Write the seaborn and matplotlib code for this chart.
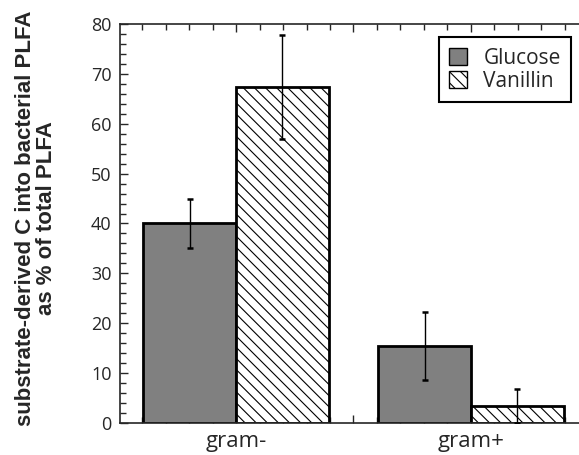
import matplotlib
matplotlib.use("Agg")
import matplotlib.pyplot as plt
from matplotlib.patches import Patch
from matplotlib.ticker import MultipleLocator
import pandas as pd
import seaborn as sns

# values
groups = ["gram-", "gram-", "gram+", "gram+"]
substrate = ["Glucose", "Vanillin", "Glucose", "Vanillin"]
mean_pct = [40.0, 67.3, 15.5, 3.4]
err_pct = [4.9, 10.4, 6.8, 3.4]

order = ["gram-", "gram+"]
hue_order = ["Glucose", "Vanillin"]
colors = {"Glucose": "#808080", "Vanillin": "white"}
hatches = {"Glucose": "", "Vanillin": "\\\\\\"}

df = pd.DataFrame({"group": groups, "substrate": substrate, "pct": mean_pct, "err": err_pct})

sns.set_style("ticks")
plt.rcParams["font.family"] = ["Open Sans", "DejaVu Sans"]
plt.rcParams["hatch.linewidth"] = 0.8

fig = plt.figure(figsize=(5.79, 4.55), dpi=100)
ax = fig.add_axes([120 / 579, 1 - 423 / 455, 1 - 120 / 579, (423 - 24) / 455])

sns.barplot(data=df, x="group", y="pct", hue="substrate", order=order, hue_order=hue_order,
            palette=colors, errorbar=None, width=0.79, edgecolor="black", linewidth=2,
            saturation=1, legend=False, ax=ax)

# hatch + error bars per substrate
for cont, sub in zip(ax.containers, hue_order):
    rows = df[df.substrate == sub].set_index("group").loc[order]
    xs = [b.get_x() + b.get_width() / 2 for b in cont]
    for b in cont:
        b.set_hatch(hatches[sub])
    ax.errorbar(xs, rows.pct, yerr=rows.err, fmt="none", ecolor="black",
                elinewidth=1, capsize=2.3, capthick=1.8, zorder=5)

ax.set_ylim(0, 80)
ax.set_xlim(-0.494, 1.46)
ax.spines["right"].set_visible(False)
for s in ["left", "top", "bottom"]:
    ax.spines[s].set_linewidth(1.2)

ax.yaxis.set_major_locator(MultipleLocator(10))
ax.yaxis.set_minor_locator(MultipleLocator(2))
ax.set_xticks([0, 0.5, 1])
ax.set_xticklabels(["gram-", "", "gram+"])
ax.xaxis.set_minor_locator(MultipleLocator(0.1))
ax.tick_params(which="both", direction="in", top=True, right=False, width=1)
ax.tick_params(which="major", length=6)
ax.tick_params(which="minor", length=4)
ax.tick_params(axis="y", labelsize=13, pad=6)
ax.tick_params(axis="x", labelsize=16, pad=6)

ax.set_xlabel("")
ax.set_ylabel("substrate-derived C into bacterial PLFA\nas % of total PLFA",
              family="Liberation Sans", fontweight="bold", fontsize=16, linespacing=0.95)
ax.yaxis.set_label_coords(-0.138, 0.514)

handles = [Patch(facecolor=colors[s], edgecolor="black", hatch=hatches[s], linewidth=1)
           for s in hue_order]
leg = ax.legend(handles, hue_order, loc="upper right", bbox_to_anchor=(0.983, 0.967),
                borderaxespad=0, fontsize=15, fancybox=False, framealpha=1, borderpad=0.5,
                handlelength=0.85, handleheight=0.85, handletextpad=0.8, labelspacing=0.1)
leg.get_frame().set_edgecolor("black")
leg.get_frame().set_linewidth(1.5)

fig.savefig("out.png", dpi=100)
